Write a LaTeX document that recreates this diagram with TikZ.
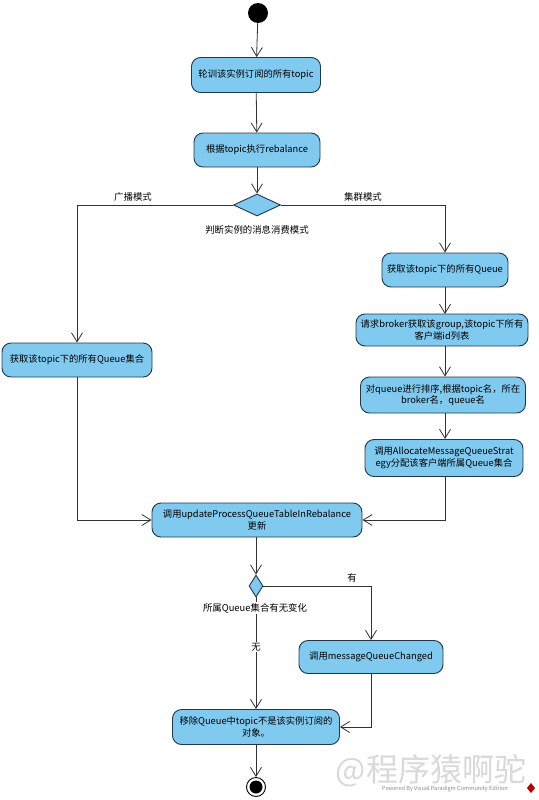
\documentclass[tikz,border=0pt]{standalone}
\usepackage{fontspec}
\setmainfont{Noto Sans CJK SC}
\usetikzlibrary{arrows.meta,shapes.geometric}
\definecolor{actfill}{RGB}{128,202,240}
\definecolor{actdraw}{RGB}{35,55,75}
\definecolor{linec}{RGB}{50,50,50}
\begin{document}
\begin{tikzpicture}[x=1pt,y=-1pt,
  act/.style={draw=actdraw,fill=actfill,line width=0.9pt,rounded corners=9pt,
    inner sep=2pt,align=center,font=\fontsize{9.3}{11.5}\selectfont},
  dec/.style={draw=actdraw,fill=actfill,line width=0.9pt,diamond,inner sep=0pt},
  flow/.style={draw=linec,line width=0.8pt,-{Straight Barb[length=9pt,width=11pt,line width=0.8pt]}},
  lbl/.style={font=\fontsize{9.4}{10}\selectfont,inner sep=1pt}]
\useasboundingbox (0,0) rectangle (538,800);
\fill[white] (0,0) rectangle (538,800);
% watermark
\node[text=black!15,font=\fontsize{32}{34}\selectfont] (wm) at (431,771) {@程序猿啊驼};
\node[text=black!45,font=\fontsize{5.6}{6}\selectfont] (vp) at (445,789) {Powered By Visual Paradigm Community Edition};
\fill[red!75!black] (531,783) -- (535,788) -- (531,793) -- (527,788) -- cycle;
% nodes
\node[circle,fill=black,minimum size=20pt,inner sep=0pt] (start) at (258,13) {};
\node[act,minimum width=129pt,minimum height=35pt] (n1) at (256,75) {轮训该实例订阅的所有topic};
\node[act,minimum width=126pt,minimum height=34pt] (n2) at (257,150) {根据topic执行rebalance};
\node[dec,minimum width=47pt,minimum height=22pt] (d1) at (257,205) {};
\node[lbl] (d1l) at (257,230) {判断实例的消息消费模式};
\node[act,minimum width=150pt,minimum height=34pt] (L) at (77,360) {获取该topic下的所有Queue集合};
\node[act,minimum width=126pt,minimum height=34pt] (R1) at (445,270) {获取该topic下的所有Queue};
\node[act,minimum width=172pt,minimum height=32pt] (R2) at (442,330) {请求broker获取该group,该topic下所有\\客户端id列表};
\node[act,minimum width=165pt,minimum height=36pt] (R3) at (443,395) {对queue进行排序,根据topic名，所在\\broker名，queue名};
\node[act,minimum width=158pt,minimum height=37pt] (R4) at (444,458) {调用AllocateMessageQueueStrat\\egy分配该客户端所属Queue集合};
\node[act,minimum width=210pt,minimum height=34pt] (U) at (257,520) {调用updateProcessQueueTableInRebalance\\更新};
\node[dec,minimum width=14pt,minimum height=22pt] (d2) at (256,586) {};
\node[act,minimum width=144pt,minimum height=33pt] (M) at (371,657) {调用messageQueueChanged};
\node[act,minimum width=167pt,minimum height=35pt] (X) at (256,727) {移除Queue中topic不是该实例订阅的\\对象。};
\node[circle,draw=black,line width=0.9pt,fill=white,minimum size=19pt,inner sep=0pt] (end) at (256,787) {};
\fill[black] (end.center) circle (6.5pt);
% edges
\draw[flow] (start) -- (n1);
\draw[flow] (n1) -- (n2);
\draw[flow] (n2.south -| d1.north) -- (d1.north);
\draw[flow] (d1.west) -| (L.north);
\node[lbl] (lb1) at (133,197) {广播模式};
\draw[flow] (d1.east) -| (R1.north);
\node[lbl] (lb2) at (363,197) {集群模式};
\draw[flow] (R1.south -| 445,0) -- (445,314);
\draw[flow] (445,346) -- (R3.north -| 445,0);
\draw[flow] (R3.south -| 445,0) -- (R4.north -| 445,0);
\draw[flow] (L.south) |- (U.west);
\draw[flow] (R4.south -| 445,0) |- (U.east);
\draw[flow] (U.south -| d2.north) -- (d2.north);
\draw[flow] (d2.east) -| (M.north);
\node[lbl] (lb3) at (352,578) {有};
\draw[flow] (d2.south) -- (X.north -| d2.south);
\node[lbl,fill=white] (lb4) at (255,608) {所属Queue集合有无变化};
\node[lbl,fill=white] (lb5) at (256,647) {无};
\draw[flow] (M.south) |- (X.east);
\draw[flow] (X.south) -- (end.north);
\end{tikzpicture}
\end{document}
